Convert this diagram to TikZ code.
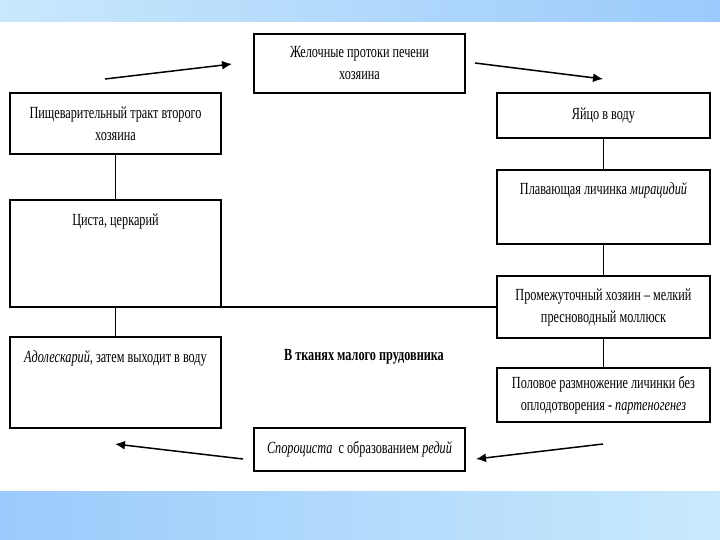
\documentclass[tikz,border=0pt]{standalone}
\usepackage{fontspec}
\setmainfont[FakeStretch=0.72]{Liberation Serif}
\usetikzlibrary{arrows.meta}
\begin{document}
\begin{tikzpicture}[x=1pt,y=-1pt,
  box/.style={draw=black, line width=1.4pt, minimum width=211pt, inner sep=0pt, outer sep=0pt},
  txt/.style={align=center, font=\fontsize{17}{22}\selectfont, inner sep=0pt},
  conn/.style={line width=1.1pt},
  arr/.style={line width=1.5pt, -{Latex[length=10pt,width=9pt]}}]
\useasboundingbox (0,0) rectangle (720,540);
\fill[white] (0,0) rectangle (720,540);
% gradient bars
\shade[left color={rgb,255:red,200;green,232;blue,252}, right color={rgb,255:red,156;green,202;blue,252}] (0,0) rectangle (720,22);
\shade[left color={rgb,255:red,156;green,202;blue,252}, right color={rgb,255:red,200;green,234;blue,252}] (0,491) rectangle (720,540);
% boxes
\node[box, minimum height=59pt] (top) at (359.5,63.5) {};
\node[txt] (topt) at (top.center) {Желочные протоки печени\\хозяина};
\node[box, minimum height=61pt] (l1) at (115.5,123.5) {};
\node[txt] (l1t) at (l1.center) {Пищеварительный тракт второго\\хозяина};
\node[box, minimum height=107pt] (l2) at (115.5,253.5) {};
\node[txt, anchor=north] (l2t) at ([yshift=-14pt]l2.north) {Циста, церкарий};
\node[box, minimum height=91pt] (l3) at (115.5,382.5) {};
\node[txt, anchor=north] (l3t) at ([yshift=-13pt]l3.north) {\textit{Адолескарий}, затем выходит в воду};
\node[box, minimum width=213pt, minimum height=45pt] (r1) at (603.5,115.5) {};
\node[txt] (r1t) at (r1.center) {Яйцо в воду};
\node[box, minimum width=213pt, minimum height=74pt] (r2) at (603.5,207) {};
\node[txt, anchor=north] (r2t) at ([yshift=-12pt]r2.north) {Плавающая личинка \textit{мирацидий}};
\node[box, minimum width=213pt, minimum height=62pt] (r3) at (603.5,307) {};
\node[txt] (r3t) at (r3.center) {Промежуточный хозяин – мелкий\\пресноводный моллюск};
\node[box, minimum width=213pt, minimum height=54pt] (r4) at (603.5,395) {};
\node[txt] (r4t) at (r4.center) {Половое размножение личинки без\\оплодотворения - \textit{партеногенез}};
\node[box, minimum height=43pt] (bot) at (359.5,449.5) {};
\node[txt] (bott) at (bot.center) {\textit{Спороциста} \ с образованием \textit{редий}};
\node[txt, font=\fontsize{17}{22}\selectfont\bfseries] (mid) at (364,357) {В тканях малого прудовника};
% connectors
\draw[conn] (l1.south) -- (l2.north);
\draw[conn] (l2.south) -- (l3.north);
\draw[conn] (r1.south) -- (r2.north);
\draw[conn] (r2.south) -- (r3.north);
\draw[conn] (r3.south) -- (r4.north);
\draw[conn] (l2.south east) -- (r3.west);
% arrows
\coordinate (a1s) at (105,79);
\coordinate (a1e) at (232,64);
\coordinate (a2s) at (475,63);
\coordinate (a2e) at (603,79);
\coordinate (a3s) at (243,459);
\coordinate (a3e) at (115,444);
\coordinate (a4s) at (603,444);
\coordinate (a4e) at (476,459);
\draw[arr] (a1s) -- (a1e);
\draw[arr] (a2s) -- (a2e);
\draw[arr] (a3s) -- (a3e);
\draw[arr] (a4s) -- (a4e);
\end{tikzpicture}
\end{document}
